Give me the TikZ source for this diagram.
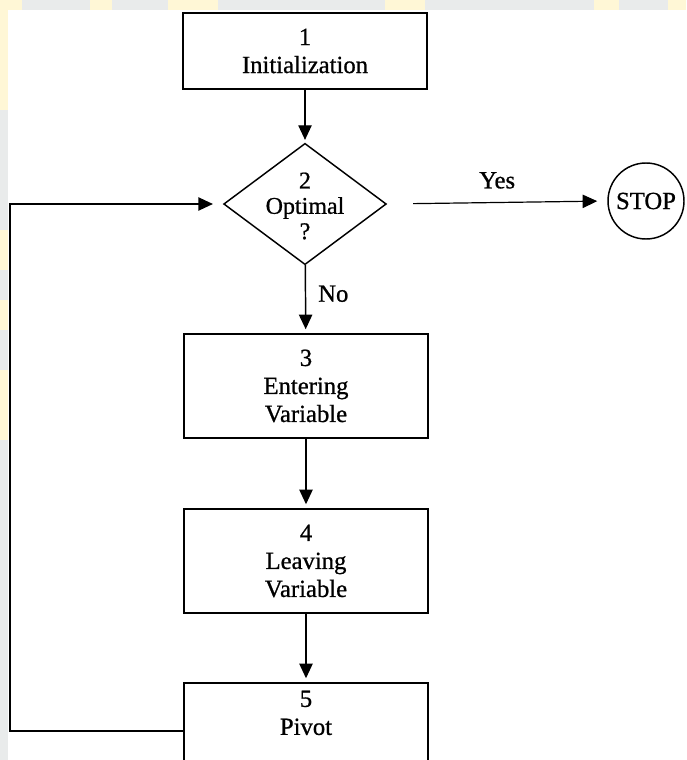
\documentclass[tikz,border=0pt]{standalone}
\usepackage{fontspec}
\setmainfont{Liberation Serif}[FakeBold=0.8]
\usetikzlibrary{shapes.geometric,arrows.meta}
\definecolor{scanbar}{HTML}{E9EBEB}
\definecolor{wmark}{HTML}{FFF7D6}
\tikzset{
  lbl/.style={font=\fontsize{18.5}{21}\selectfont, align=center, inner sep=0pt},
  stepbox/.style={draw, line width=1.1pt, minimum width=183pt, inner sep=0pt,
    align=center, font=\fontsize{18.5}{21}\selectfont},
  decision/.style={draw, shape=diamond, line width=1.1pt, inner sep=0pt,
    minimum width=122pt, minimum height=91pt},
  stopnode/.style={draw, circle, line width=1.1pt, minimum size=57pt, inner sep=0pt,
    font=\fontsize{18.5}{21}\selectfont},
  flow/.style={line width=1.1pt, -{Triangle[length=11pt,width=10pt]}},
}
\begin{document}
\begin{tikzpicture}[x=0.75pt,y=-0.75pt]
\useasboundingbox (0,0) rectangle (686,760);
\clip (0,0) rectangle (686,760);
\fill[white] (0,0) rectangle (686,760);

% page edges
\fill[scanbar] (0,0) rectangle (686,10);
\fill[scanbar] (0,10) rectangle (8,760);
\fill[wmark] (0,0) rectangle (22,10);
\fill[wmark] (90,0) rectangle (112,10);
\fill[wmark] (168,0) rectangle (218,10);
\fill[wmark] (385,0) rectangle (425,10);
\fill[wmark] (594,0) rectangle (619,10);
\fill[wmark] (668,0) rectangle (686,10);
\fill[wmark] (0,10) rectangle (8,110);
\fill[wmark] (0,230) rectangle (8,270);
\fill[wmark] (0,300) rectangle (8,330);
\fill[wmark] (0,370) rectangle (8,440);

% steps
\node[stepbox, minimum height=57pt] (b1) at (305,51) {1\\Initialization};
\node[decision] (d2) at (305,204) {};
\node[lbl, font=\fontsize{18}{19}\selectfont] (d2t) at (305,206) {2\\Optimal\\?};
\node[stopnode] (stop) at (646,201) {STOP};
\node[stepbox, minimum height=78pt] (b3) at (306,386) {3\\Entering\\Variable};
\node[stepbox, minimum height=78pt] (b4) at (306,561) {4\\Leaving\\Variable};
\node[stepbox, minimum height=72pt] (b5) at (306,731) {5\\Pivot\\\strut};

% connectors
\draw[flow, shorten >=2pt] (b1) -- (d2);
\draw[flow, shorten >=3pt] (d2) -- node[lbl, right=9pt, pos=0.42] (no) {No} (b3);
\draw[flow, shorten >=3pt] (b3) -- (b4);
\draw[flow, shorten >=3pt] (b4) -- (b5);
\draw[flow, line width=0.9pt, shorten <=19.5pt, shorten >=7.5pt] (d2.east) --
  node[lbl, above=10pt, pos=0.5] (yes) {Yes} (stop.west);
\coordinate (loop) at (10,204);
\draw[flow, shorten >=7.5pt] (b5.west) -| (loop) -- (d2.west);
\end{tikzpicture}
\end{document}
